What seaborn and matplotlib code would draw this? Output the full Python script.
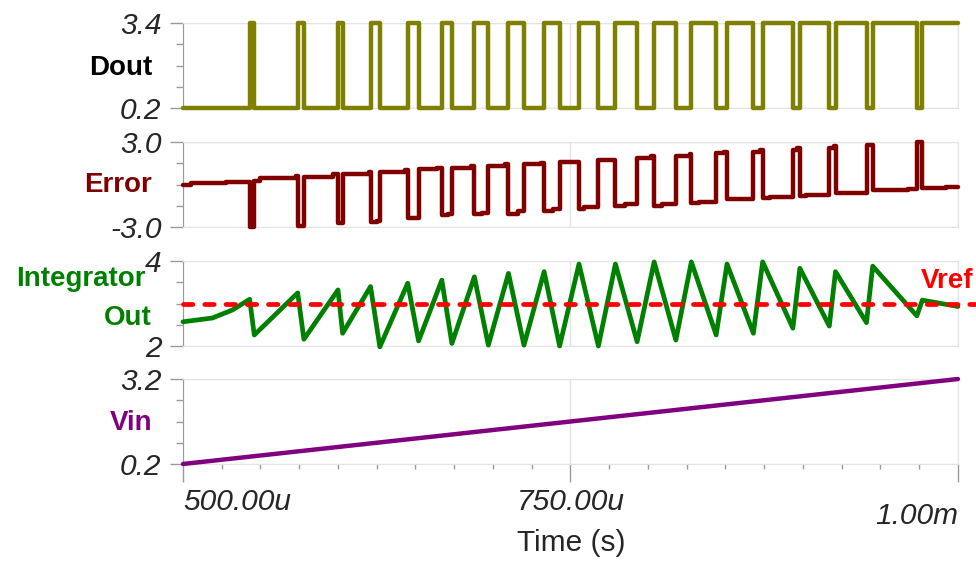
import numpy as np
import pandas as pd
import matplotlib
matplotlib.use("Agg")
import matplotlib.pyplot as plt
import seaborn as sns
from matplotlib.ticker import AutoMinorLocator, MultipleLocator
from matplotlib.transforms import ScaledTranslation


# Time axis is in microseconds (500u .. 1m)

# Dout: comparator output, step changes
dout_t = [500, 543, 546, 574, 578, 600, 603, 621, 627, 645, 652, 667, 673.5,
          688, 697, 710, 720, 733, 743, 755.5, 768, 779, 793, 804, 818, 828,
          844, 851, 868, 874, 893.5, 898, 917, 921, 941, 945, 973.5, 977, 1000]
dout_v = [0.2, 3.4, 0.2, 3.4, 0.2, 3.4, 0.2, 3.4, 0.2, 3.4, 0.2, 3.4, 0.2,
          3.4, 0.2, 3.4, 0.2, 3.4, 0.2, 3.4, 0.2, 3.4, 0.2, 3.4, 0.2, 3.4,
          0.2, 3.4, 0.2, 3.4, 0.2, 3.4, 0.2, 3.4, 0.2, 3.4, 0.2, 3.4, 3.4]

# Error: step levels
err_t = [500, 505, 528, 543, 546, 550, 573, 574, 578, 597, 600, 603, 620, 621,
         625, 627, 643, 645, 652, 664, 667, 671, 673.5, 686, 688, 693, 697,
         708, 710, 716, 720, 731, 733, 739, 743, 755.5, 759, 768, 779, 785,
         793, 802, 804, 809, 818, 827, 828, 833, 844, 849, 851, 857, 868, 872,
         874, 879, 893.5, 896, 898, 902, 917, 920, 921, 941, 945, 968, 973.5,
         977, 992, 1000]
err_v = [0.0, 0.1, 0.2, -3.0, 0.27, 0.44, 0.58, -2.9, 0.55, 0.72, -2.74, 0.72,
         0.86, -2.67, -2.6, 0.86, 1.05, -2.39, 1.09, 1.19, -2.15, -2.1, 1.14,
         1.33, -2.06, -1.99, 1.33, 1.43, -2.08, -1.87, 1.43, 1.5, -1.87, -1.73,
         1.61, -1.73, -1.57, 1.73, -1.5, -1.4, 1.85, 2.01, -1.5, -1.4, 2.03,
         2.15, -1.33, -1.23, 2.2, 2.32, -1.05, -1.0, 2.32, 2.43, -0.93, -0.88,
         2.43, 2.6, -0.79, -0.72, 2.6, 2.74, -0.62, 2.79, -0.39, -0.3, 3.02,
         -0.27, -0.16, -0.16]

# Integrator output, corner points of the triangle wave
integ_t = [500, 519, 532, 543, 546, 574, 578, 600, 603, 621, 627, 645, 652,
           667, 673.5, 688, 697, 710, 720, 733, 743, 755.5, 768, 779, 793, 804,
           818, 828, 844, 851, 868, 874, 893.5, 898, 917, 921, 941, 945, 973.5,
           977, 1000]
integ_v = [2.57, 2.66, 2.85, 3.10, 2.26, 3.25, 2.16, 3.32, 2.30, 3.40, 1.98,
           3.48, 2.12, 3.55, 2.06, 3.63, 2.02, 3.71, 2.02, 3.75, 2.00, 3.93,
           2.00, 3.93, 2.10, 3.98, 2.14, 3.98, 2.26, 3.93, 2.30, 3.98, 2.42,
           3.83, 2.47, 3.75, 2.55, 3.88, 2.71, 3.08, 2.93]

vref_t = [500, 1012]
vref_v = [3.0, 3.0]

# Vin ramp
vin_t = [500, 1000]
vin_v = [0.2, 3.2]

# axis ranges and tick texts
ylims = [(0.2, 3.4), (-3.0, 3.0), (2, 4), (0.2, 3.2)]
ytick_text = [["0.2", "3.4"], ["-3.0", "3.0"], ["2", "4"], ["0.2", "3.2"]]
xticks = [500, 750, 1000]
xtick_text = ["500.00u", "750.00u", "1.00m"]


sns.set_style("white")
plt.rcParams['font.family'] = ['Liberation Sans', 'DejaVu Sans']

fig = plt.figure(figsize=(9.76, 5.62), dpi=100)

# panel boxes in figure fractions (left, bottom, width, height)
left, width, height = 0.1875, 0.794, 0.1512
bottoms = [0.8078, 0.5961, 0.3843, 0.1744]
axes = [fig.add_axes([left, b, width, height]) for b in bottoms]

grid_col = '#e3e3e3'
spine_col = '#9a9a9a'

for i, ax in enumerate(axes):
    ax.set_xlim(500, 1000)
    ax.set_ylim(*ylims[i])
    ax.set_yticks(list(ylims[i]))
    ax.set_yticklabels(ytick_text[i], fontsize=21.5, style='italic')
    ax.yaxis.set_minor_locator(AutoMinorLocator(4))
    ax.set_xticks(xticks)
    ax.grid(True, which='major', color=grid_col, lw=1)
    for s in ['top', 'right', 'bottom']:
        ax.spines[s].set_color(grid_col)
    ax.spines['left'].set_color(spine_col)
    ax.tick_params(axis='y', which='major', direction='out', length=9.5,
                   width=1, color=spine_col, pad=6, left=True)
    ax.tick_params(axis='y', which='minor', direction='out', length=5,
                   width=1, color=spine_col, left=True)
    if i < 3:
        ax.tick_params(axis='x', which='both', length=0, labelbottom=False)

# Dout
sns.lineplot(x=dout_t, y=dout_v, ax=axes[0], color='#808000', linewidth=3.2,
             drawstyle='steps-post', estimator=None, clip_on=False, zorder=3)

# Error
sns.lineplot(x=err_t, y=err_v, ax=axes[1], color='#800000', linewidth=3.2,
             drawstyle='steps-post', estimator=None, clip_on=False, zorder=3)

# Integrator + Vref
sns.lineplot(x=integ_t, y=integ_v, ax=axes[2], color='#008000', linewidth=3.4,
             estimator=None, clip_on=False, zorder=3)
axes[2].plot(vref_t, vref_v, color='#ff0000', linewidth=3.4,
             dashes=(2, 2.5), dash_capstyle='round', clip_on=False, zorder=5)

# Vin
sns.lineplot(x=vin_t, y=vin_v, ax=axes[3], color='#800080', linewidth=3.2,
             estimator=None, clip_on=False, zorder=3)

for ax in axes:
    ax.set_xlabel('')
    ax.set_ylabel('')

# bottom time axis
ax4 = axes[3]
ax4.xaxis.set_minor_locator(MultipleLocator(25))
ax4.tick_params(axis='x', which='major', direction='out', length=13,
                width=1, color=spine_col, pad=4, bottom=True)
ax4.tick_params(axis='x', which='minor', direction='out', length=3.5,
                width=1, color=spine_col, bottom=True)
ax4.set_xticklabels(xtick_text, fontsize=21.5, style='italic')
xlabs = ax4.get_xticklabels()
xlabs[0].set_ha('left')
xlabs[1].set_ha('center')
xlabs[2].set_ha('right')
xlabs[2].set_transform(xlabs[2].get_transform() +
                       ScaledTranslation(0, -14 / 100, fig.dpi_scale_trans))

fig.text(571 / 976, 1 - 543 / 562, 'Time (s)', fontsize=21.5,
         ha='center', va='center')

# trace names on the left
fig.text(152 / 976, 1 - 68 / 562, 'Dout', fontsize=20, fontweight='bold',
         color='black', ha='right', va='center')
fig.text(152 / 976, 1 - 185 / 562, 'Error', fontsize=20, fontweight='bold',
         color='#800000', ha='right', va='center')
fig.text(146 / 976, 1 - 279 / 562, 'Integrator', fontsize=20,
         fontweight='bold', color='#008000', ha='right', va='center')
fig.text(152 / 976, 1 - 318 / 562, 'Out', fontsize=20, fontweight='bold',
         color='#008000', ha='right', va='center')
fig.text(152 / 976, 1 - 423 / 562, 'Vin', fontsize=20, fontweight='bold',
         color='#800080', ha='right', va='center')
fig.text(921 / 976, 1 - 281 / 562, 'Vref', fontsize=20, fontweight='bold',
         color='#ff0000', ha='left', va='center')

fig.savefig('out.png', dpi=100)
